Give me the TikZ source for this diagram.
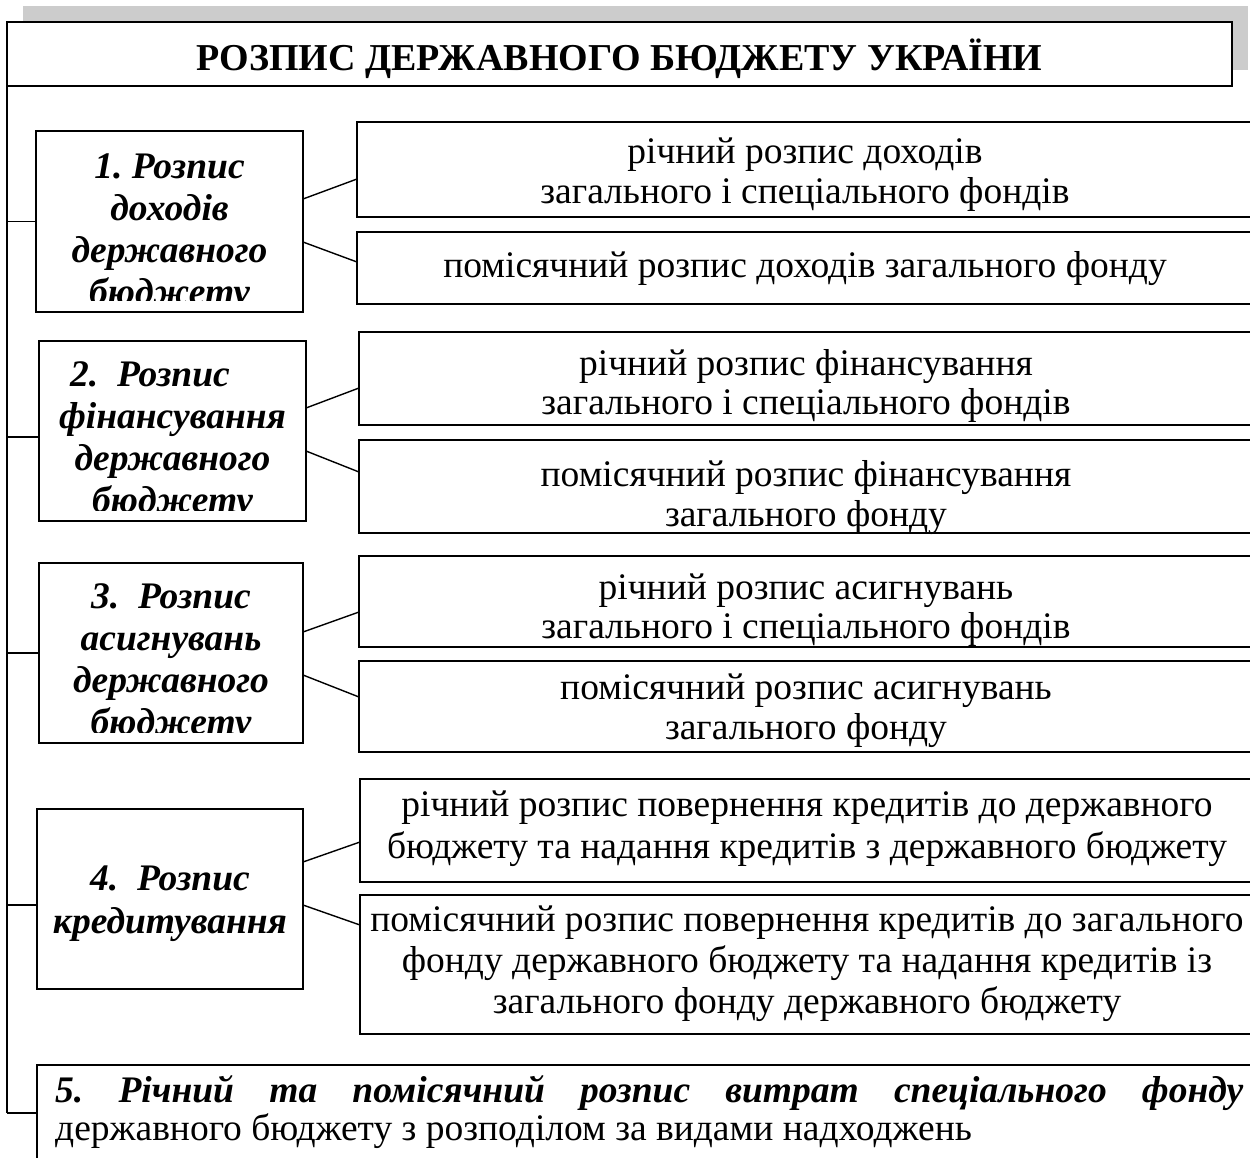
\documentclass[tikz,border=0pt]{standalone}
\usepackage{fontspec}
\setmainfont{Liberation Serif}
\usetikzlibrary{shadows}
\frenchspacing
\begin{document}
\begin{tikzpicture}[x=1pt,y=-1pt,
  box/.style={draw=black,line width=1.8pt,fill=white,anchor=north west,inner sep=0pt,outer sep=0pt},
  link/.style={draw=black,line width=1.4pt},
  lhead/.style={font=\fontsize{37.5}{42}\selectfont\bfseries\itshape,anchor=base,inner sep=0pt},
  rtext/.style={font=\fontsize{37.5}{42}\selectfont,anchor=base,inner sep=0pt},
  ttext/.style={font=\fontsize{38}{42}\selectfont\bfseries,anchor=base,inner sep=0pt},
]
\useasboundingbox (0,0) rectangle (1250,1157);
\begin{scope}
\clip (0,0) rectangle (1250,1157);

% title
\node[box,line width=2pt,minimum width=1225pt,minimum height=64pt,
  drop shadow={shadow xshift=16pt,shadow yshift=16pt,fill=gray!40,opacity=1}] (title) at (7,22) {};
\node[ttext] (ttl) at ([yshift=-16pt]title.center) {РОЗПИС ДЕРЖАВНОГО БЮДЖЕТУ УКРАЇНИ};

% left boxes
\node[box,minimum width=267pt,minimum height=181pt] (b1) at (36,131) {};
\node[box,minimum width=267pt,minimum height=180pt] (b2) at (39,341) {};
\node[box,minimum width=264pt,minimum height=180pt] (b3) at (39,563) {};
\node[box,minimum width=266pt,minimum height=180pt] (b4) at (37,809) {};

% right boxes
\node[box,minimum width=900pt,minimum height=95pt] (r1a) at (357,122) {};
\node[box,minimum width=900pt,minimum height=72pt] (r1b) at (357,232) {};
\node[box,minimum width=900pt,minimum height=93pt] (r2a) at (359,332) {};
\node[box,minimum width=900pt,minimum height=93pt] (r2b) at (359,440) {};
\node[box,minimum width=900pt,minimum height=91pt] (r3a) at (359,556) {};
\node[box,minimum width=900pt,minimum height=91pt] (r3b) at (359,661) {};
\node[box,minimum width=900pt,minimum height=103pt] (r4a) at (360,779) {};
\node[box,minimum width=900pt,minimum height=139pt] (r4b) at (360,895) {};

% box 5
\node[box,minimum width=1230pt,minimum height=120pt] (b5) at (37,1065) {};

% trunk and branches
\coordinate (trunkend) at (b5.west |- 0,1113);
\draw[link] (title.south west) -- (title.south west |- trunkend);
\draw[link] (title.south west |- b1.west) -- (b1.west);
\draw[link] ([yshift=-6pt]title.south west |- b2.west) -- ([yshift=-6pt]b2.west);
\draw[link] (title.south west |- b3.west) -- (b3.west);
\draw[link] ([yshift=-6pt]title.south west |- b4.west) -- ([yshift=-6pt]b4.west);
\draw[link] (title.south west |- trunkend) -- (trunkend);

% connectors
\draw[link] ([yshift=22.5pt]b1.east) -- ([yshift=-9.5pt]r1a.west);
\draw[link] ([yshift=-20.5pt]b1.east) -- ([yshift=6pt]r1b.west);
\draw[link] ([yshift=23pt]b2.east) -- ([yshift=-9.5pt]r2a.west);
\draw[link] ([yshift=-20pt]b2.east) -- ([yshift=14.5pt]r2b.west);
\draw[link] ([yshift=21pt]b3.east) -- ([yshift=-10.5pt]r3a.west);
\draw[link] ([yshift=-22pt]b3.east) -- ([yshift=9.5pt]r3b.west);
\draw[link] ([yshift=37pt]b4.east) -- ([yshift=-11.5pt]r4a.west);
\draw[link] ([yshift=-6pt]b4.east) -- ([yshift=39.5pt]r4b.west);

% left box texts
\begin{scope}
\clip (b1.north west) rectangle ([yshift=12pt]b1.south east);
\node[lhead] (h1a) at (169.5,178) {1. Розпис};
\node[lhead] (h1b) at (169.5,220) {доходів};
\node[lhead] (h1c) at (169.5,262) {державного};
\node[lhead] (h1d) at (169.5,304) {бюджету};
\end{scope}
\begin{scope}
\clip (b2.north west) rectangle ([yshift=11pt]b2.south east);
\node[lhead] (h2a) at (150,386) {2.\ \ Розпис};
\node[lhead] (h2b) at (172.5,428) {фінансування};
\node[lhead] (h2c) at (172.5,470) {державного};
\node[lhead] (h2d) at (172.5,512) {бюджету};
\end{scope}
\begin{scope}
\clip (b3.north west) rectangle ([yshift=11pt]b3.south east);
\node[lhead] (h3a) at (171,608) {3.\ \ Розпис};
\node[lhead] (h3b) at (171,650) {асигнувань};
\node[lhead] (h3c) at (171,692) {державного};
\node[lhead] (h3d) at (171,734) {бюджету};
\end{scope}
\node[lhead] (h4a) at (170,890) {4.\ \ Розпис};
\node[lhead] (h4b) at (170,933) {кредитування};

% right texts
\node[rtext] (t1a1) at (805,163) {річний розпис доходів};
\node[rtext] (t1a2) at (805,203) {загального і спеціального фондів};
\node[rtext] (t1b1) at (805,277) {помісячний розпис доходів загального фонду};
\node[rtext] (t2a1) at (806,375) {річний розпис фінансування};
\node[rtext] (t2a2) at (806,414) {загального і спеціального фондів};
\node[rtext] (t2b1) at (806,486) {помісячний розпис фінансування};
\node[rtext] (t2b2) at (806,526) {загального фонду};
\node[rtext] (t3a1) at (806,599) {річний розпис асигнувань};
\node[rtext] (t3a2) at (806,638) {загального і спеціального фондів};
\node[rtext] (t3b1) at (806,699) {помісячний розпис асигнувань};
\node[rtext] (t3b2) at (806,739) {загального фонду};
\node[rtext] (t4a1) at (807,816) {річний розпис повернення кредитів до державного};
\node[rtext] (t4a2) at (807,858) {бюджету та надання кредитів з державного бюджету};
\node[rtext] (t4b1) at (807,931) {помісячний розпис повернення кредитів до загального};
\node[rtext] (t4b2) at (807,972) {фонду державного бюджету та надання кредитів із};
\node[rtext] (t4b3) at (807,1013) {загального фонду державного бюджету};

% box 5 text
\node[font=\fontsize{37.5}{42}\selectfont\bfseries\itshape,anchor=base west,inner sep=0pt] (t5a) at (55,1102)
  {\makebox[1188pt][s]{5. Річний та помісячний розпис витрат спеціального фонду}};
\node[rtext,anchor=base west] (t5b) at (55,1140) {державного бюджету з розподілом за видами надходжень};
\end{scope}
\end{tikzpicture}
\end{document}
